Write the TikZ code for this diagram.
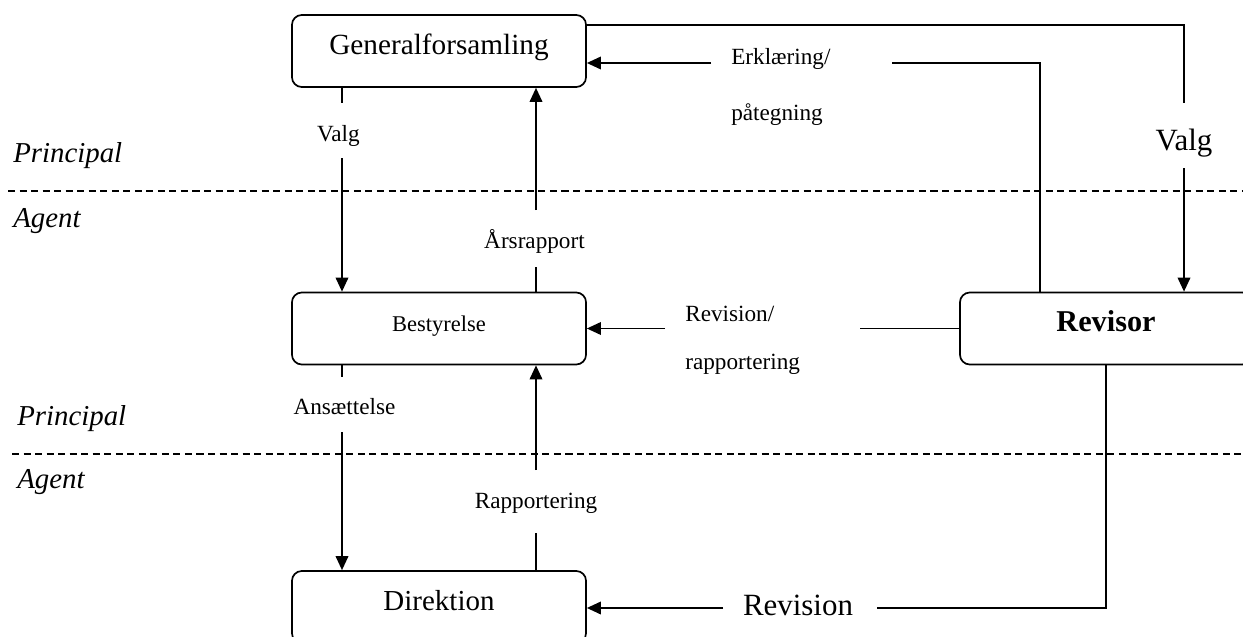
\documentclass[tikz,border=0pt]{standalone}
\usepackage{fontspec}
\setmainfont{Liberation Serif}
\usetikzlibrary{arrows.meta}
\begin{document}
\begin{tikzpicture}[x=0.025cm,y=-0.025cm,
  box/.style={draw, line width=1.2pt, rounded corners=7pt, minimum width=7.35cm, minimum height=1.8cm, inner sep=0pt, text height=0.69em, text depth=0.22em},
  conn/.style={line width=1.1pt},
  arr/.style={conn, -{Triangle[length=10pt,width=9pt]}},
  lbl/.style={font=\fontsize{16.5}{18}\selectfont, inner sep=0pt, anchor=base},
  lblw/.style={lbl, anchor=base west},
  big/.style={font=\fontsize{22}{24}\selectfont, inner sep=0pt, anchor=base},
  side/.style={font=\fontsize{20.5}{22}\selectfont\itshape, inner sep=0pt, anchor=base west},
  sep/.style={line width=1.1pt, dash pattern=on 5pt off 3.2pt}]
\useasboundingbox (0,0) rectangle (1243,637);
\clip (0,0) rectangle (1243,637);

% separator lines
\coordinate (d1a) at (8,191);
\coordinate (d1b) at (1243,191);
\coordinate (d2a) at (12,454);
\coordinate (d2b) at (1243,454);
\draw[sep] (d1a) -- (d1b);
\draw[sep] (d2a) -- (d2b);

% side labels
\node[side] (pr1) at (13,162) {Principal};
\node[side] (ag1) at (13,227) {Agent};
\node[side] (pr2) at (17,425) {Principal};
\node[side] (ag2) at (17,488) {Agent};

% boxes
\node[box, font=\fontsize{20.8}{23}\selectfont] (gf) at (439,51) {Generalforsamling};
\node[box, font=\fontsize{16}{18}\selectfont] (best) at (439,328.5) {Bestyrelse};
\node[box, font=\fontsize{20.6}{23}\selectfont] (dir) at (439,607) {Direktion};
\node[box, minimum width=7.3cm, font=\fontsize{21.5}{23}\selectfont\bfseries] (rev) at (1106,328.5) {Revisor};

% labels
\node[lbl] (lvalg) at (338.5,142) {Valg};
\node[lbl] (lars) at (534.5,248) {Årsrapport};
\node[lbl] (lans) at (344.5,414) {Ansættelse};
\node[lbl] (lrap) at (536,508) {Rapportering};
\node[lblw] (ler1) at (731,65) {Erklæring/};
\node[lblw] (ler2) at (731,120) {påtegning};
\node[lblw] (lrv1) at (685,321) {Revision/};
\node[lblw] (lrv2) at (685,369) {rapportering};
\node[big] (lvalg2) at (1184,150) {Valg};
\node[big] (lrevb) at (798,615) {Revision};

% Generalforsamling -> Revisor (Valg)
\coordinate (t1) at (1184,25);
\coordinate (t2) at (1184,103);
\coordinate (t3) at (1184,168);
\draw[conn] (gf.east |- t1) -- (t1) -- (t2);
\draw[arr] (t3) -- (t3 |- rev.north);

% Revisor -> Generalforsamling (Erklaering/paategning)
\coordinate (e1) at (1040,63);
\coordinate (e2) at (892,63);
\coordinate (e3) at (711,63);
\draw[conn] (e1 |- rev.north) -- (e1) -- (e2);
\draw[arr] (e3) -- (e3 -| gf.east);

% Revisor -> Bestyrelse
\coordinate (r1) at (860,328.5);
\coordinate (r2) at (665,328.5);
\draw[conn] (rev.west) -- (r1);
\draw[arr] (r2) -- (best.east);

% Revisor -> Direktion
\coordinate (b1) at (1106,608);
\coordinate (b2) at (877,608);
\coordinate (b3) at (723,608);
\draw[conn] (rev.south) -- (b1) -- (b2);
\draw[arr] (b3) -- (b3 -| dir.east);

% Generalforsamling -> Bestyrelse (Valg)
\coordinate (v1) at (342,103);
\coordinate (v2) at (342,158);
\draw[conn] (v1 |- gf.south) -- (v1);
\draw[arr] (v2) -- (v2 |- best.north);

% Bestyrelse -> Generalforsamling (Aarsrapport)
\coordinate (a1) at (536,267);
\coordinate (a2) at (536,210);
\draw[conn] (a1 |- best.north) -- (a1);
\draw[arr] (a2) -- (a2 |- gf.south);

% Bestyrelse -> Direktion (Ansaettelse)
\coordinate (n1) at (342,377);
\coordinate (n2) at (342,432);
\draw[conn] (n1 |- best.south) -- (n1);
\draw[arr] (n2) -- (n2 |- dir.north);

% Direktion -> Bestyrelse (Rapportering)
\coordinate (p1) at (536,533);
\coordinate (p2) at (536,470);
\draw[conn] (p1 |- dir.north) -- (p1);
\draw[arr] (p2) -- (p2 |- best.south);
\end{tikzpicture}
\end{document}
